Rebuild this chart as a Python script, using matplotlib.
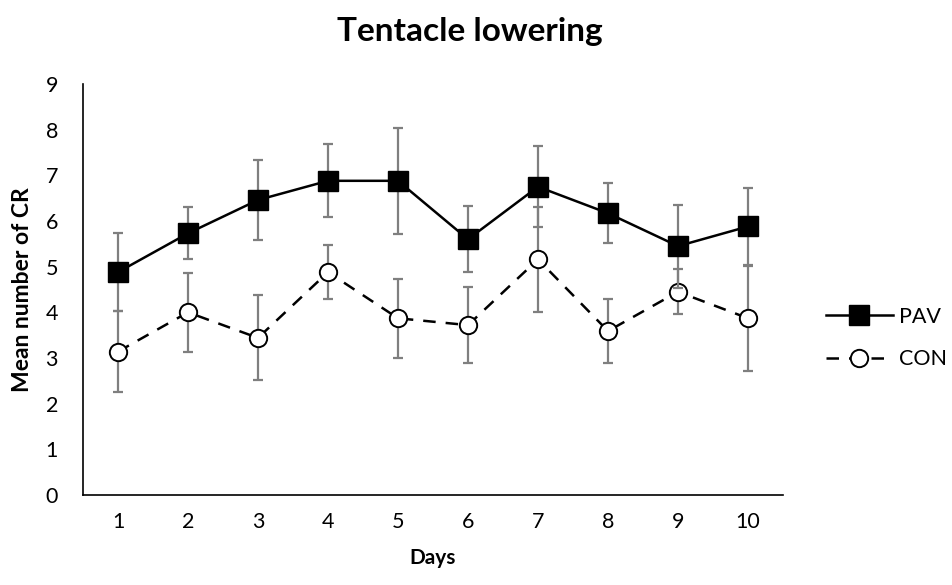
import matplotlib
matplotlib.use("Agg")
import matplotlib.pyplot as plt
from matplotlib.lines import Line2D

plt.rcParams['font.family'] = ['Lato', 'DejaVu Sans']

days = [1, 2, 3, 4, 5, 6, 7, 8, 9, 10]

# PAV group: mean CR per day and error (+/-)
pav_mean = [4.88, 5.73, 6.46, 6.88, 6.88, 5.60, 6.75, 6.17, 5.45, 5.88]
pav_err = [0.85, 0.57, 0.88, 0.80, 1.16, 0.72, 0.89, 0.66, 0.91, 0.84]

# CON group
con_mean = [3.14, 4.00, 3.44, 4.88, 3.87, 3.72, 5.16, 3.59, 4.45, 3.87]
con_err = [0.89, 0.86, 0.93, 0.59, 0.86, 0.84, 1.15, 0.71, 0.49, 1.15]

err_color = '#7f7f7f'

fig = plt.figure(figsize=(9.52, 5.85), dpi=100)
ax = fig.add_axes([83 / 952, 1 - 495 / 585, 700 / 952, 411 / 585])

# error bars first, then the series lines on top
ax.errorbar(days, con_mean, yerr=con_err, fmt='none', ecolor=err_color,
            elinewidth=1.6, capsize=3.8, capthick=1.6, zorder=2)
con_line, = ax.plot(days, con_mean, color='black', linewidth=1.8,
                    marker='o', markersize=12.5, markerfacecolor='white',
                    markeredgecolor='black', markeredgewidth=1.4, zorder=3)
con_line.set_dashes([5, 4])

ax.errorbar(days, pav_mean, yerr=pav_err, fmt='none', ecolor=err_color,
            elinewidth=1.6, capsize=3.8, capthick=1.6, zorder=4)
pav_line, = ax.plot(days, pav_mean, color='black', linewidth=1.8,
                    marker='s', markersize=14, markerfacecolor='black',
                    markeredgecolor='black', zorder=5)

ax.set_xlim(0.5, 10.5)
ax.set_ylim(0, 9)
ax.set_xticks(days)
ax.set_yticks(range(0, 10))
ax.tick_params(axis='both', length=0, labelsize=15.5, pad=12)
ax.tick_params(axis='y', pad=18)

for side in ['top', 'right']:
    ax.spines[side].set_visible(False)
for side in ['left', 'bottom']:
    ax.spines[side].set_linewidth(1.2)
    ax.spines[side].set_color('black')

ax.set_xlabel('Days', fontsize=15, fontweight='bold', labelpad=12)
ax.set_ylabel('Mean number of CR', fontsize=16.5, fontweight='bold', labelpad=9)
fig.text(470 / 952, 1 - 32 / 585, 'Tentacle lowering', fontsize=24,
         fontweight='bold', ha='center', va='center')

# legend without the error bars
h_pav = Line2D([], [], color='black', linewidth=1.8, marker='s',
               markersize=14, markerfacecolor='black')
h_con = Line2D([], [], color='black', linewidth=1.8, marker='o',
               markersize=12.5, markerfacecolor='white',
               markeredgewidth=1.4, dashes=[5, 4])
fig.legend([h_pav, h_con], ['PAV', 'CON'], loc='center left',
           bbox_to_anchor=(826 / 952, 1 - 338 / 585), frameon=False,
           fontsize=15.5, handlelength=3.1, handletextpad=0.3,
           labelspacing=1.05, borderpad=0, borderaxespad=0)

fig.savefig('out.png', dpi=100)
